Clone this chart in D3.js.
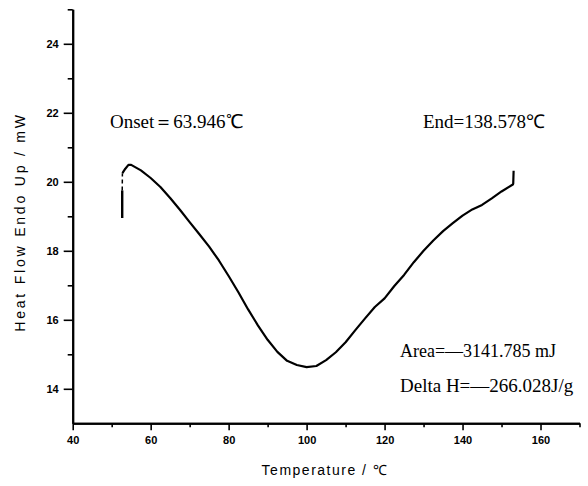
<!DOCTYPE html>
<html>
<head>
<meta charset="utf-8">
<script src="https://cdnjs.cloudflare.com/ajax/libs/d3/7.8.5/d3.min.js"></script>
<style>
body{margin:0;background:#fff}
svg{display:block}
.tick text{font-family:Arial,"Liberation Sans",sans-serif;font-size:11px;font-weight:bold;fill:#000}
.note{font-family:"Times New Roman","Liberation Serif",serif;fill:#000}
</style>
</head>
<body>
<script>
// DSC curve
var riseTemp = [52.7, 52.7]
var riseFlow = [18.95, 19.75]
var dashTemp = [52.7, 52.75]
var dashFlow = [19.75, 20.25]
var curveTemp = [52.75,53.5,54.3,55,57.5,60,62.5,65,67.5,70,72.5,75,77.5,80,82.5,85,87.5,90,92.5,95,97.5,100,102.5,105,107.5,110,112.5,115,117.5,120,122.5,125,127.5,130,132.5,135,137.5,140,142.5,145,147.5,150,152.9,153.0,153.1]
var curveFlow = [20.25,20.38,20.49,20.49,20.33,20.11,19.85,19.53,19.19,18.83,18.48,18.12,17.72,17.27,16.8,16.3,15.84,15.42,15.07,14.81,14.69,14.63,14.66,14.83,15.06,15.35,15.7,16.04,16.37,16.62,16.98,17.3,17.67,18.0,18.3,18.57,18.8,19.02,19.2,19.33,19.52,19.72,19.92,19.95,20.32]

var xTicks = [40,60,80,100,120,140,160]
var xMinor = [50,70,90,110,130,150,170]
var yTicks = [14,16,18,20,22,24]
var yMinor = [15,17,19,21,23,25]

var notes = ["Onset\uFF1D63.946\u2103","End=138.578\u2103","Area=\u20143141.785 mJ","Delta H=\u2014266.028J/g"]

var width = 588, height = 486
var svg = d3.select("body").append("svg").attr("width",width).attr("height",height)

var xScale = d3.scaleLinear().domain([40,170]).range([72.7,579.5])
var yScale = d3.scaleLinear().domain([13,25]).range([423.3,9.3])

// minor ticks first, then the labelled ones
svg.append("g").attr("transform","translate(0,423.3)")
    .call(d3.axisBottom(xScale).tickValues(xMinor).tickSize(4).tickSizeOuter(0).tickFormat(""))
svg.append("g").attr("transform","translate(72.7,0)")
    .call(d3.axisLeft(yScale).tickValues(yMinor).tickSize(5).tickSizeOuter(0).tickFormat(""))

var xAxis = svg.append("g").attr("transform","translate(0,423.3)")
    .call(d3.axisBottom(xScale).tickValues(xTicks).tickSize(7).tickSizeOuter(0).tickPadding(6))
var yAxis = svg.append("g").attr("transform","translate(72.7,0)")
    .call(d3.axisLeft(yScale).tickValues(yTicks).tickSize(9).tickSizeOuter(0).tickPadding(5))

svg.selectAll(".domain").attr("stroke","#000").attr("stroke-width",2)
svg.selectAll(".tick line").attr("stroke","#000").attr("stroke-width",1.6)

svg.append("text").text("Temperature / \u2103")
    .attr("x",325).attr("y",475)
    .attr("text-anchor","middle")
    .attr("font-family","Arial, 'Liberation Sans', sans-serif")
    .attr("font-size",14).attr("letter-spacing",1.5)

svg.append("text").text("Heat Flow  Endo Up / mW")
    .attr("transform","translate(25,222) rotate(-90)")
    .attr("text-anchor","middle")
    .attr("font-family","Arial, 'Liberation Sans', sans-serif")
    .attr("font-size",14).attr("letter-spacing",2.8)

function pts(t,f){
    return t.map(function(d,i){ return [d,f[i]] })
}
var line = d3.line()
    .x(function(d){ return xScale(d[0]) })
    .y(function(d){ return yScale(d[1]) })

svg.append("path").datum(pts(riseTemp,riseFlow))
    .attr("d",line).attr("fill","none").attr("stroke","#000").attr("stroke-width",2.4)
svg.append("path").datum(pts(dashTemp,dashFlow))
    .attr("d",line).attr("fill","none").attr("stroke","#000").attr("stroke-width",1.5)
    .attr("stroke-dasharray","4,3")
svg.append("path").datum(pts(curveTemp,curveFlow))
    .attr("d",line).attr("fill","none").attr("stroke","#000").attr("stroke-width",2.2)
    .attr("stroke-linejoin","round")

var notePos = [[110,128],[423,128],[400,357],[400,392]]
var noteSize = [19,19,18,19]
svg.selectAll(".note").data(notes).enter().append("text")
    .attr("class","note")
    .text(function(d){ return d })
    .attr("font-size",function(d,i){ return noteSize[i] })
    .attr("x",function(d,i){ return notePos[i][0] })
    .attr("y",function(d,i){ return notePos[i][1] })
</script>
</body>
</html>
